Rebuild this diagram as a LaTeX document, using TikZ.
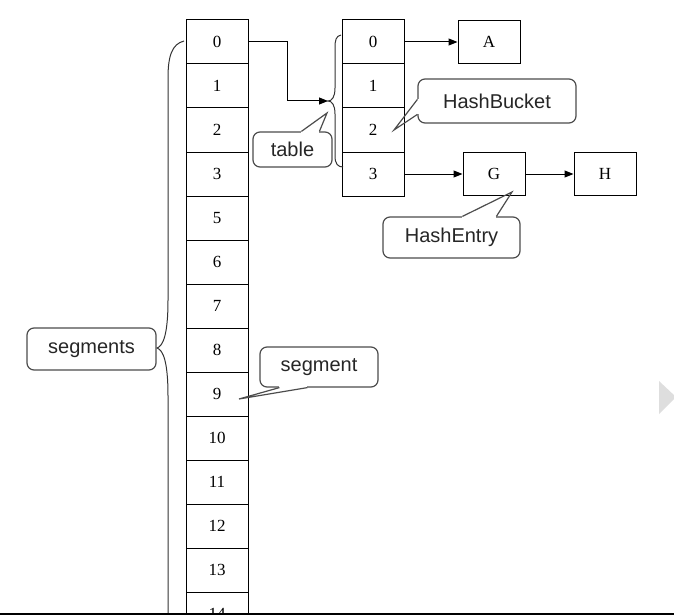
\documentclass[tikz,border=0pt]{standalone}
\usepackage{fontspec}
\setmainfont{Liberation Serif}
\newfontfamily\notefont{Liberation Sans}
\usepackage{tikz}
\usetikzlibrary{arrows.meta, calc}

\tikzset{
    cell/.style = {draw, line width=1pt, minimum width=62pt, minimum height=44pt,
                   inner sep=0pt, font=\fontsize{17}{20}\selectfont},
    entry/.style = {cell, minimum height=43pt},
    note/.style = {draw=black!70, line width=1.2pt, rounded corners=7pt, inner sep=0pt,
                   text=black!85, font=\notefont\fontsize{20}{24}\selectfont},
    tail/.style = {draw=black!70, line width=1.2pt, line join=miter},
    erase/.style = {draw=white, line width=2.4pt},
    link/.style = {line width=1pt, -{Triangle[length=9pt,width=7pt]}},
    brace/.style = {line width=1pt, black!80},
}

\begin{document}
\begin{tikzpicture}[x=1pt, y=-1pt]
    \useasboundingbox (0,0) rectangle (674,615);
    \clip (0,0) rectangle (674,615);

    % segments array
    \foreach \lab [count=\i from 0] in {0,1,2,3,5,6,7,8,9,10,11,12,13,14}
        \node[cell] (s\i) at (217,{42+44*\i}) {\lab};

    % table of one segment
    \foreach \i in {0,...,3}
        \node[cell] (t\i) at (373,{42+44*\i}) {\i};

    % entries
    \node[entry] (A) at (489,42) {A};
    \node[entry] (G) at (494,174) {G};
    \node[entry] (H) at (605,174) {H};

    \draw[link] (t0.east) -- (A.west);
    \draw[link] (t3.east) -- (G.west);
    \draw[link] (G.east) -- (H.west);

    % brace round the table
    \coordinate (ttip) at (328,101);
    \draw[brace] (341,35) .. controls (336,36) and (335,40) .. (335,48) -- (335,88)
        .. controls (335,97) and (332,101) .. (ttip)
        .. controls (332,101) and (335,105) .. (335,114) -- (335,156)
        .. controls (335,164) and (338,167) .. (343,167);
    \draw[link] (s0.east) -- ++(39,0) |- (ttip);

    % brace round the segments
    \coordinate (stip) at (157,348);
    \draw[brace] (184,41) .. controls (172,44) and (168,56) .. (168,78) -- (168,300)
        .. controls (168,335) and (163,346) .. (stip)
        .. controls (163,350) and (168,361) .. (168,396) -- (168,640);

    % callouts
    \node[note, minimum width=129pt, minimum height=42pt] (segs) at (91.5,349) {segments};

    \node[note, minimum width=118pt, minimum height=40pt] (seg) at (319,367) {segment};
    \coordinate (seg1) at ($(seg.south west)+(20,0)$);
    \coordinate (seg2) at ($(seg.south west)+(48,0)$);
    \coordinate (segp) at (239,399);
    \draw[erase] (seg1) -- (seg2);
    \draw[tail] (seg1) -- (segp) -- (seg2);

    \node[note, minimum width=79pt, minimum height=35pt] (tab) at (292.5,149.5) {table};
    \coordinate (tab1) at ($(tab.north west)+(49,0)$);
    \coordinate (tab2) at ($(tab.north west)+(67,0)$);
    \coordinate (tabp) at (327,113);
    \draw[erase] (tab1) -- (tab2);
    \draw[tail] (tab1) -- (tabp) -- (tab2);

    \node[note, minimum width=158pt, minimum height=44pt] (bucket) at (497,101) {HashBucket};
    \coordinate (bucket1) at ($(bucket.north west)+(0,21)$);
    \coordinate (bucket2) at ($(bucket.north west)+(0,36)$);
    \coordinate (bucketp) at (394,130);
    \draw[erase] (bucket1) -- (bucket2);
    \draw[tail] (bucket1) -- (bucketp) -- (bucket2);

    \node[note, minimum width=137pt, minimum height=41pt] (hentry) at (451.5,237.5) {HashEntry};
    \coordinate (hentry1) at ($(hentry.north west)+(80,0)$);
    \coordinate (hentry2) at ($(hentry.north west)+(114,0)$);
    \coordinate (hentryp) at (512,192);
    \draw[erase] (hentry1) -- (hentry2);
    \draw[tail] (hentry1) -- (hentryp) -- (hentry2);

    % grey mark at the right edge, rule at the bottom
    \fill[black!13] (659,381) -- (676,397) -- (659,414) -- cycle;
    \draw[line width=2.2pt] (0,613.9) -- (674,613.9);
\end{tikzpicture}
\end{document}
